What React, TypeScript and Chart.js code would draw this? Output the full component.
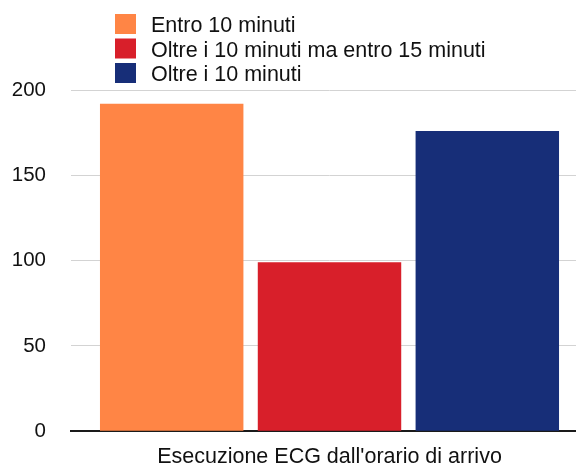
import { useEffect, useRef } from "react";
import { Chart, registerables } from "chart.js";

Chart.register(...registerables);

// Data
const categories = ["Esecuzione ECG dall'orario di arrivo"];
const seriesNames = [
  "Entro 10 minuti",
  "Oltre i 10 minuti ma entro 15 minuti",
  "Oltre i 10 minuti",
];
const entro10 = [192];
const oltre10Entro15 = [99];
const oltre10 = [176];
const yTickValues = [0, 50, 100, 150, 200];

const seriesColors = ["#FF8545", "#D81F2A", "#172E78"];
const FONT = "'Liberation Sans', Arial, Helvetica, sans-serif";

// Legend drawn as a vertical list in the upper-left corner
const stackedLegend = {
  id: "stackedLegend",
  afterDraw(chart: any) {
    const ctx = chart.ctx;
    ctx.save();
    ctx.font = `21.5px ${FONT}`;
    ctx.textBaseline = "alphabetic";
    ctx.textAlign = "left";
    chart.data.datasets.forEach((ds: any, i: number) => {
      const top = 14 + i * 24.5;
      ctx.fillStyle = ds.backgroundColor;
      ctx.fillRect(115, top, 21, 20);
      ctx.fillStyle = "#111";
      ctx.fillText(ds.label, 151, top + 18.3);
    });
    ctx.restore();
  },
};

export default function App() {
  const canvasRef = useRef<HTMLCanvasElement | null>(null);

  useEffect(() => {
    if (!canvasRef.current) return;
    const seriesValues = [entro10, oltre10Entro15, oltre10];
    const chart = new Chart(canvasRef.current, {
      type: "bar",
      data: {
        labels: categories,
        datasets: seriesNames.map((name, i) => ({
          label: name,
          data: seriesValues[i],
          backgroundColor: seriesColors[i],
          borderWidth: 0,
          categoryPercentage: 0.9157,
          barPercentage: 0.909,
        })),
      },
      options: {
        responsive: false,
        animation: false,
        devicePixelRatio: 1,
        layout: { padding: { top: 90, right: 12, left: 0, bottom: 0 } },
        plugins: {
          legend: { display: false },
          tooltip: { enabled: false },
        },
        scales: {
          x: {
            grid: { display: false, drawTicks: false },
            border: { display: true, color: "#1a1a1a", width: 2 },
            ticks: {
              color: "#111",
              font: { family: FONT, size: 21.5 },
              padding: 13,
            },
          },
          y: {
            min: 0,
            max: 200,
            afterBuildTicks: (axis: any) => {
              axis.ticks = yTickValues.map((v) => ({ value: v }));
            },
            grid: {
              drawTicks: false,
              color: (c: any) =>
                c.tick && c.tick.value === 0 ? "rgba(0,0,0,0)" : "#d3d3d3",
              lineWidth: 1,
            },
            border: { display: false },
            ticks: {
              color: "#111",
              font: { family: FONT, size: 20.5 },
              padding: 25,
            },
            afterFit: (axis: any) => {
              axis.width = 71;
            },
          },
        },
      },
      plugins: [stackedLegend],
    });
    return () => chart.destroy();
  }, []);

  return (
    <div
      style={{
        position: "fixed",
        left: 0,
        top: 0,
        width: 576,
        height: 463,
        overflow: "hidden",
        background: "#fff",
      }}
    >
      <canvas ref={canvasRef} width={600} height={483} style={{ display: "block" }} />
    </div>
  );
}
